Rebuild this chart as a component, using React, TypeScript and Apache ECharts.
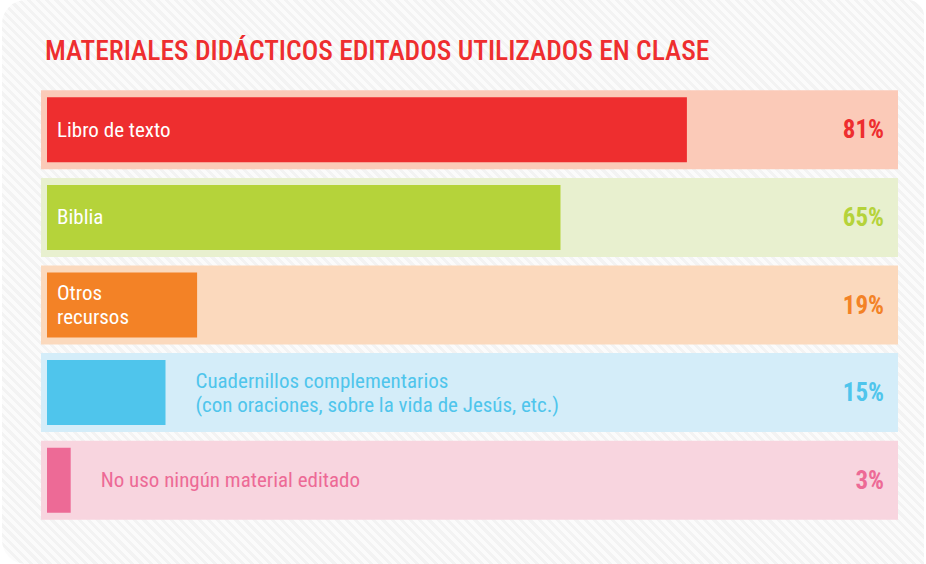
import React, { useEffect, useRef } from "react";
import * as echarts from "echarts";

const titleText = "MATERIALES DIDÁCTICOS EDITADOS UTILIZADOS EN CLASE";
const categories = [
  "Libro de texto",
  "Biblia",
  "Otros\nrecursos",
  "Cuadernillos complementarios\n(con oraciones, sobre la vida de Jesús, etc.)",
  "No uso ningún material editado",
];
const values = [81, 65, 19, 15, 3];
const barColors = ["#ee2e2f", "#b5d33a", "#f38226", "#4fc5ec", "#ed6a96"];
const trackColors = ["#fbcab8", "#e8f0cf", "#fbd9bd", "#d4edf9", "#f8d5df"];
const labelInside = [true, true, true, false, false];

const FONT = "'Ubuntu Condensed','Roboto Condensed','DejaVu Sans Condensed','Liberation Sans Narrow',Roboto,sans-serif";

export default function App() {
  const ref = useRef<HTMLDivElement>(null);
  useEffect(() => {
    if (!ref.current) return;
    const chart = echarts.init(ref.current, undefined, { renderer: "svg" });
    chart.setOption({
      animation: false,
      backgroundColor: "transparent",
      title: {
        text: titleText,
        left: 40,
        top: 31,
        textStyle: { color: "#ee2e2f", fontSize: 27.5, fontWeight: 500, fontFamily: FONT },
      },
      grid: [
        { left: 41, right: 28, top: 86, bottom: 40 },
        { left: 47, right: 89, top: 86, bottom: 40 },
      ],
      xAxis: [
        { type: "value", gridIndex: 0, min: 0, max: 100, show: false },
        { type: "value", gridIndex: 1, min: 0, max: 100, show: false },
      ],
      yAxis: [
        { type: "category", gridIndex: 0, data: categories, inverse: true, show: false },
        { type: "category", gridIndex: 1, data: categories, inverse: true, show: false },
      ],
      series: [
        {
          type: "bar",
          xAxisIndex: 0,
          yAxisIndex: 0,
          barWidth: 79,
          silent: true,
          data: values.map((v, i) => ({
            value: 100,
            itemStyle: { color: trackColors[i] },
            label: {
              show: true,
              position: "insideRight",
              distance: 14,
              formatter: v + "%",
              color: barColors[i],
              fontSize: 25,
              fontWeight: "bold",
              fontFamily: FONT,
            },
          })),
        },
        {
          type: "bar",
          xAxisIndex: 1,
          yAxisIndex: 1,
          barWidth: 65,
          silent: true,
          data: values.map((v, i) => ({
            value: v,
            itemStyle: { color: barColors[i] },
            label: {
              show: true,
              position: labelInside[i] ? "insideLeft" : "right",
              distance: labelInside[i] ? 10 : 30,
              formatter: categories[i],
              color: labelInside[i] ? "#ffffff" : barColors[i],
              fontSize: 21,
              lineHeight: 24,
              fontFamily: FONT,
              align: "left",
            },
          })),
        },
      ],
    });
    return () => chart.dispose();
  }, []);
  return (
    <div
      style={{
        position: "fixed",
        left: 0,
        top: 0,
        width: 926,
        height: 564,
        background: "#ffffff",
      }}
    >
      <div
        style={{
          position: "absolute",
          left: 2,
          top: 0,
          right: 2,
          bottom: 0,
          borderRadius: "24px 16px 0 24px",
          background:
            "repeating-linear-gradient(45deg, #f3f3f3 0px, #f3f3f3 3px, #fbfbfb 3px, #fbfbfb 6.5px)",
        }}
      />
      <div ref={ref} style={{ position: "absolute", left: 0, top: 0, width: 926, height: 564 }} />
    </div>
  );
}
